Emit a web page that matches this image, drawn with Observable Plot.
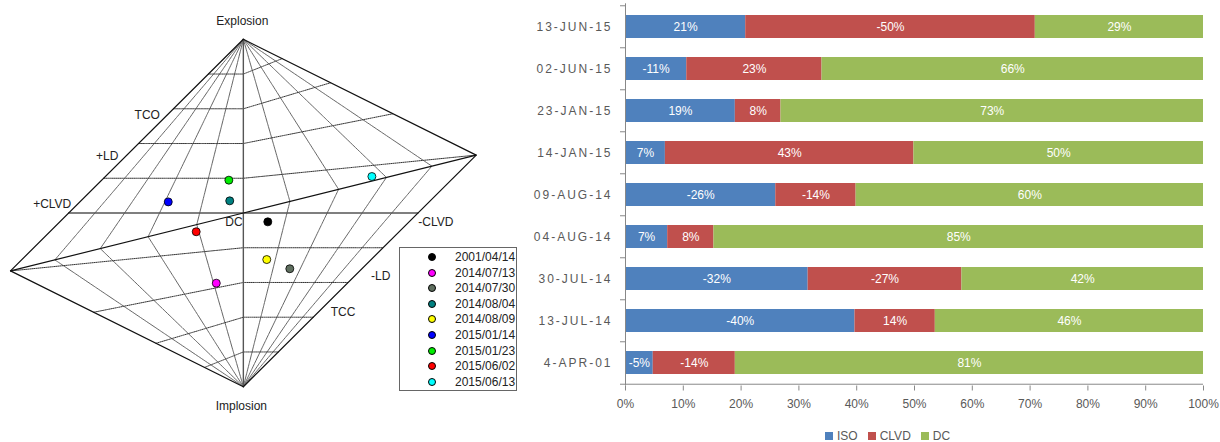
<!DOCTYPE html>
<html><head><meta charset="utf-8">
<script src="https://cdn.jsdelivr.net/npm/d3@7"></script>
<script src="https://cdn.jsdelivr.net/npm/@observablehq/plot@0.6"></script>
<style>
body{margin:0;background:#fff;width:1220px;height:442px;overflow:hidden;position:relative;font-family:"Liberation Sans",Arial,sans-serif;}
#left{position:absolute;left:0;top:0;}
#right{position:absolute;left:480px;top:0;}
#legendL{position:absolute;left:399px;top:247px;width:118px;height:144px;border:1px solid #666;box-sizing:border-box;background:#fff;font-size:12px;color:#222;}
#legendL .row{position:absolute;left:0;height:14px;line-height:14px;}
#legendL .dot{position:absolute;left:28px;top:3px;width:6px;height:6px;border-radius:50%;border:1px solid #000;}
#legendL .lbl{position:absolute;left:55px;top:0;white-space:nowrap;}
#legendR{position:absolute;left:825px;top:429px;font-size:12px;color:#595959;white-space:nowrap;font-family:"Liberation Sans",Arial,sans-serif;}
#legendR span.sw{display:inline-block;width:8px;height:8px;margin-right:4px;vertical-align:0px;}
#legendR span.it{margin-right:10px;}
#right svg [aria-label="y-axis tick label"] text{letter-spacing:2px;}
</style></head><body>
<div id="left"></div><div id="right"></div><div id="legendL"></div><div id="legendR"></div>
<script>
// ---------- Left: Hudson source-type plot data ----------
const eventDates = ["2001/04/14","2014/07/13","2014/07/30","2014/08/04","2014/08/09","2015/01/14","2015/01/23","2015/06/02","2015/06/13"];
const eventColors = ["#000000","#ff00ff","#5f6f5f","#008080","#ffff00","#0000ff","#00ee00","#ff0000","#00ffff"];
const eventU = [0.140,-0.155,0.266,-0.078,0.134,-0.430,-0.083,-0.270,0.736];
const eventV = [-0.051,-0.404,-0.321,0.070,-0.268,0.064,0.189,-0.108,0.210];
const gridK = [-0.8,-0.6,-0.4,-0.2,0.2,0.4,0.6,0.8];
const gridT = [-0.85,-0.68,-0.48,-0.25,0.25,0.48,0.68,0.85];
const sourceLabels = ["Explosion","Implosion","TCO","+LD","+CLVD","DC","-CLVD","-LD","TCC"];
const sourceTau = [0,0,-4/9,-2/3,-1,0,1,2/3,4/9];
const sourceK = [1,-1,5/9,1/3,0,0,0,-1/3,-5/9];

// ---------- Right: moment tensor decomposition ----------
const barDates = ["13-JUN-15","02-JUN-15","23-JAN-15","14-JAN-15","09-AUG-14","04-AUG-14","30-JUL-14","13-JUL-14","4-APR-01"];
const isoPct  = [20.8,-10.6,19.0,6.9,-26.0,7.3,-31.6,-39.7,-4.8];
const clvdPct = [-50.1,23.4,7.9,43.0,-13.9,8.0,-26.6,13.9,-14.2];
const dcPct   = [29.1,66.0,73.1,50.1,60.1,84.7,41.8,46.4,81.0];
const components = ["ISO","CLVD","DC"];
const compColors = ["#4f81bd","#c0504d","#9bbb59"];
const xTicks = [0,10,20,30,40,50,60,70,80,90,100];

// Hudson et al. (1989) mapping (tau,k) -> (u,v)
function tk2uv(tau, k){
  if (tau*k <= 0) return [tau, k];
  if (tau > 0) {
    if (tau < 4*k) { const s = 1 - tau/2; return [tau/s, k/s]; }
    const s = 1 - 2*k; return [tau/s, k/s];
  }
  if (tau > 4*k) { const s = 1 + tau/2; return [tau/s, k/s]; }
  const s = 1 + 2*k; return [tau/s, k/s];
}
const N = 120;
const gridRows = [];
gridK.forEach((k, gi) => {
  const m = 1 - Math.abs(k);
  const ts = d3.range(N+1).map(i => -m + 2*m*i/N).concat([0, 4*k].filter(t => Math.abs(t) <= m)).sort((a,b)=>a-b);
  ts.forEach(t => { const [u,v] = tk2uv(t,k); gridRows.push({u, v, id:"k"+gi}); });
});
const tRows = [];
gridT.forEach((T, gi) => {
  const kink = T > 0 ? T/(4+T) : T/(4-T);
  const ks = d3.range(N+1).map(i => -1 + 2*i/N).concat([0, kink]).sort((a,b)=>a-b);
  ks.forEach(k => { const [u,v] = tk2uv(T*(1-Math.abs(k)), k); tRows.push({u, v, id:"t"+gi}); });
});
const outline = [[0,1],[0.8,0.2],[0,-1],[-0.8,-0.2],[0,1]].map(([t,k]) => { const [u,v] = tk2uv(t,k); return {u,v}; });
const diagonal = [[-0.8,-0.2],[0,0],[0.8,0.2]].map(([t,k]) => { const [u,v] = tk2uv(t,k); return {u,v}; });
const axesMain = [
  ...[[0,1],[0,-1]].map(([t,k]) => ({u:tk2uv(t,k)[0], v:tk2uv(t,k)[1], id:"vert"})),
  ...[[-1,0],[1,0]].map(([t,k]) => ({u:tk2uv(t,k)[0], v:tk2uv(t,k)[1], id:"hor"}))
];
const labelOffsets = {Explosion:[-1,-17.8],Implosion:[-2,19.8],TCO:[-18.5,-1],"+LD":[-19.7,1],"+CLVD":[-16.5,-8.5],DC:[-9.4,9.2],"-CLVD":[17.8,9.2],"-LD":[21,5.6],TCC:[22,2.3]};
const labelRows = sourceLabels.map((name,i) => { const [u,v] = tk2uv(sourceTau[i], sourceK[i]); return {name, u, v, dx: labelOffsets[name][0], dy: labelOffsets[name][1]}; });
const events = eventDates.map((d,i) => ({date:d, color:eventColors[i], u:eventU[i], v:eventV[i]}));

const left = Plot.plot({
  width: 540, height: 442, margin: 0,
  x: {domain:[-4/3,4/3], range:[10,475.7], axis:null},
  y: {domain:[-1,1], range:[386.2,38.8], axis:null},
  style: {fontFamily:"Liberation Sans, Arial, sans-serif", fontSize:"12px", background:"transparent"},
  marks: [
    Plot.line(tRows, {x:"u", y:"v", z:"id", stroke:"#666", strokeWidth:1, strokeDasharray:"1.6,0.7"}),
    Plot.line(gridRows, {x:"u", y:"v", z:"id", stroke:"#333", strokeWidth:1, strokeDasharray:"1,1"}),
    Plot.line(axesMain, {x:"u", y:"v", z:"id", stroke:"#555", strokeWidth:1.4}),
    Plot.line(diagonal, {x:"u", y:"v", stroke:"#111", strokeWidth:1.2}),
    Plot.line(outline, {x:"u", y:"v", stroke:"#111", strokeWidth:1.2}),
    ...labelRows.map(r => Plot.text([r], {x:"u", y:"v", text:"name", dx:r.dx, dy:r.dy, fill:"#222", fontSize:12})),
    Plot.dot(events, {x:"u", y:"v", r:4, fill:"color", stroke:"#000", strokeWidth:0.8})
  ]
});
document.getElementById("left").appendChild(left);

const legL = document.getElementById("legendL");
eventDates.forEach((d,i) => {
  const row = document.createElement("div");
  row.className = "row"; row.style.top = (2 + i*15.6) + "px"; row.style.width = "100%";
  row.innerHTML = `<span class="dot" style="background:${eventColors[i]}"></span><span class="lbl">${d}</span>`;
  legL.appendChild(row);
});

// ---------- Right chart ----------
const rows = [];
[isoPct, clvdPct, dcPct].forEach((arr, ci) => arr.forEach((val, i) => rows.push({date: barDates[i], comp: components[ci], value: val, abs: Math.abs(val)})));
const H = 420, mTop = 3.3, mBottom = H - 385.5;
const step = (385.5 - mTop) / barDates.length;
const right = Plot.plot({
  width: 740, height: H, marginLeft: 145, marginRight: 17, marginTop: mTop, marginBottom: mBottom,
  style: {fontFamily:"Liberation Sans, Arial, sans-serif", fontSize:"12px", background:"transparent"},
  x: {domain:[0,100]},
  y: {domain: barDates, paddingInner:0.45, paddingOuter:0.225},
  color: {domain: components, range: compColors},
  marks: [
    Plot.barX(rows, {x:"abs", y:"date", fill:"comp"}),
    Plot.text(rows, Plot.stackX({x:"abs", y:"date", z:"comp", text: d => Math.round(d.value) + "%", fill:"#fff", fontSize:12})),
    Plot.ruleX([0], {stroke:"#888"}),
    Plot.ruleY([barDates[barDates.length-1]], {x1:0, x2:100, dy: step/2, stroke:"#888"}),
    Plot.ruleY(barDates, {x1:0, x2:0, insetLeft:-5, dy: -step/2, stroke:"#888"}),
    Plot.ruleY([barDates[barDates.length-1]], {x1:0, x2:0, insetLeft:-5, dy: step/2, stroke:"#888"}),
    Plot.axisX({ticks: xTicks, tickSize:5, tickPadding:8, tickFormat: d => d + "%", label:null, stroke:"#888", fill:"#595959"}),
    Plot.axisY({tickSize:0, tickPadding:13, label:null, fill:"#595959"})
  ]
});
document.getElementById("right").appendChild(right);

const legR = document.getElementById("legendR");
legR.innerHTML = components.map((c,i) => `<span class="it"><span class="sw" style="background:${compColors[i]}"></span>${c}</span>`).join("");
</script>
</body></html>
